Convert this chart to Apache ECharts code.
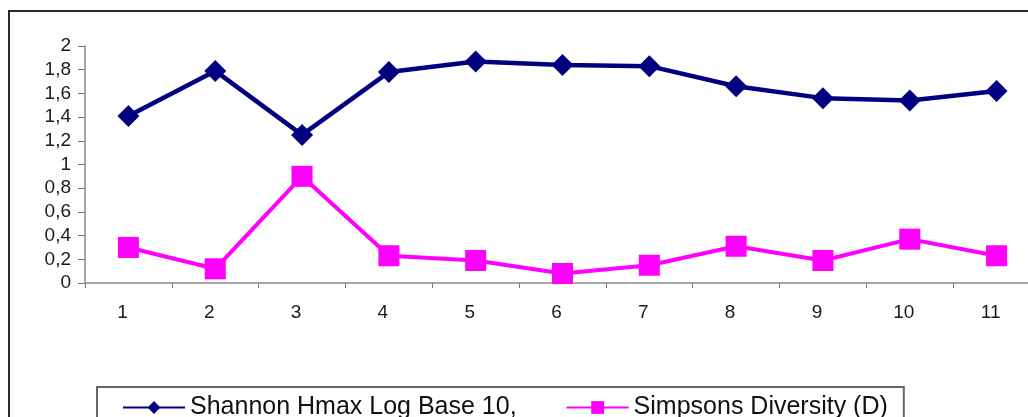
<!DOCTYPE html>
<html>
<head>
<meta charset="utf-8">
<script src="https://cdn.jsdelivr.net/npm/echarts@6/dist/echarts.min.js"></script>
<style>
  * { margin: 0; padding: 0; }
  html, body { background: #fff; }
  #chart-container { width: 1028px; height: 417px; }
</style>
</head>
<body>
<div id="chart-container"></div>
<script>
  var categories = ['1', '2', '3', '4', '5', '6', '7', '8', '9', '10', '11']
  var shannonName = 'Shannon Hmax Log Base 10,'
  var simpsonName = 'Simpsons Diversity (D)'
  var shannon = [1.41, 1.79, 1.25, 1.78, 1.87, 1.84, 1.83, 1.66, 1.56, 1.54, 1.62]
  var simpson = [0.30, 0.12, 0.90, 0.23, 0.19, 0.08, 0.15, 0.31, 0.19, 0.37, 0.23]

  var font = '"Liberation Sans", Arial, sans-serif'
  var myChart = echarts.init(document.getElementById('chart-container'), null, { renderer: 'canvas' })

  var option = {
    backgroundColor: '#fff',
    animation: false,
    textStyle: { fontFamily: font },
    graphic: [
      {
        type: 'rect',
        shape: { x: 9, y: 11, width: 1040, height: 430 },
        style: { fill: null, stroke: '#2a2a2a', lineWidth: 2 },
        silent: true,
      },
    ],
    legend: {
      left: 97,
      top: 387,
      padding: [8, 16, 8, 25],
      borderColor: '#666',
      borderWidth: 2,
      itemWidth: 62,
      itemHeight: 16,
      itemGap: 49,
      textStyle: { fontSize: 25, color: '#111', fontFamily: font },
      data: [shannonName, simpsonName],
    },
    grid: {
      left: 85,
      right: -12,
      top: 46,
      bottom: 134,
      outerBoundsMode: 'none',
    },
    xAxis: {
      type: 'category',
      data: categories,
      boundaryGap: true,
      axisLine: { lineStyle: { color: '#8a8a8a', width: 1.5 } },
      axisTick: { show: true, length: 5, lineStyle: { color: '#777' } },
      axisLabel: {
        margin: 20,
        fontSize: 19,
        color: '#1a1a1a',
        fontFamily: font,
        padding: [0, 12, 0, 0],
      },
      splitLine: { show: false },
    },
    yAxis: {
      type: 'value',
      min: 0,
      max: 2,
      interval: 0.2,
      axisLine: { show: true, lineStyle: { color: '#8a8a8a', width: 1.5 } },
      axisTick: { show: true, length: 7, lineStyle: { color: '#777' } },
      axisLabel: {
        margin: 14,
        fontSize: 19,
        color: '#1a1a1a',
        fontFamily: font,
        formatter: function (v) {
          return String(Math.round(v * 10) / 10).replace('.', ',')
        },
      },
      splitLine: { show: false },
    },
    series: [
      {
        name: shannonName,
        type: 'line',
        data: shannon,
        symbol: 'diamond',
        symbolSize: 22,
        lineStyle: { color: '#000080', width: 4.5 },
        itemStyle: { color: '#000080' },
      },
      {
        name: simpsonName,
        type: 'line',
        data: simpson,
        symbol: 'rect',
        symbolSize: 21,
        lineStyle: { color: '#ff00ff', width: 4 },
        itemStyle: { color: '#ff00ff' },
      },
    ],
  }

  myChart.setOption(option)
  window.addEventListener('resize', myChart.resize)
</script>
</body>
</html>
